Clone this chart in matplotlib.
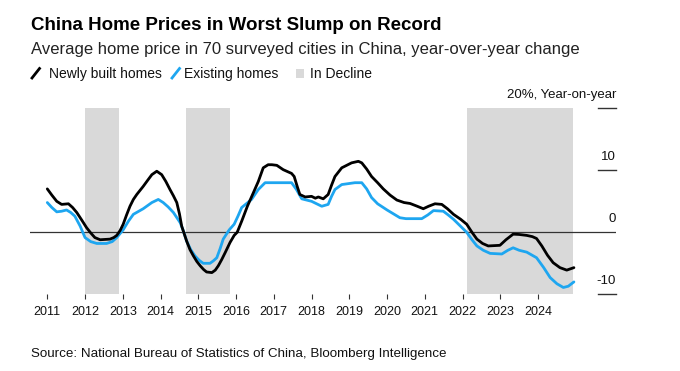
import matplotlib
matplotlib.use('Agg')
import matplotlib.pyplot as plt
from matplotlib.lines import Line2D
from matplotlib.patches import Rectangle

# ---------------- data ----------------
new_t = [2011.0, 2011.12, 2011.25, 2011.38, 2011.56, 2011.67, 2011.78, 2011.92, 2012.04, 2012.15,
         2012.26, 2012.4, 2012.53, 2012.66, 2012.76, 2012.84, 2012.93, 2013.01, 2013.1, 2013.19,
         2013.28, 2013.37, 2013.54, 2013.66, 2013.77, 2013.9, 2014.03, 2014.14, 2014.25, 2014.34,
         2014.43, 2014.5, 2014.56, 2014.69, 2014.78, 2014.87, 2014.96, 2015.05, 2015.14, 2015.22,
         2015.36, 2015.45, 2015.53, 2015.62, 2015.71, 2015.84, 2015.95, 2016.03, 2016.15, 2016.3,
         2016.46, 2016.59, 2016.72, 2016.85, 2016.95, 2017.08, 2017.25, 2017.47, 2017.54, 2017.62,
         2017.69, 2017.83, 2018.0, 2018.1, 2018.18, 2018.31, 2018.44, 2018.53, 2018.62, 2018.8,
         2019.06, 2019.24, 2019.33, 2019.46, 2019.59, 2019.75, 2019.9, 2020.08, 2020.26, 2020.45,
         2020.61, 2020.8, 2020.96, 2021.1, 2021.27, 2021.45, 2021.6, 2021.76, 2021.95, 2022.11,
         2022.25, 2022.38, 2022.53, 2022.68, 2022.99, 2023.15, 2023.34, 2023.5, 2023.7, 2023.85,
         2023.96, 2024.1, 2024.25, 2024.4, 2024.58, 2024.76, 2024.95]
new_v = [7.0, 6.0, 5.0, 4.5, 4.6, 4.0, 3.2, 1.9, 0.75, -0.1,
         -0.85, -1.2, -1.15, -1.1, -0.85, -0.5, 0.3, 1.3, 2.8, 4.2,
         5.3, 6.1, 7.4, 8.4, 9.3, 9.85, 9.3, 8.2, 6.9, 5.9,
         4.8, 3.0, 1.0, -1.4, -2.8, -3.8, -4.7, -5.4, -6.0, -6.4,
         -6.5, -6.1, -5.4, -4.4, -3.3, -1.65, -0.5, 0.0, 1.8, 4.2,
         6.4, 8.2, 10.4, 10.9, 10.9, 10.8, 10.1, 9.5, 9.0, 7.4,
         6.1, 5.7, 5.8, 5.5, 5.7, 5.4, 6.1, 7.6, 9.0, 10.4,
         11.2, 11.45, 11.2, 10.2, 9.0, 8.0, 7.0, 6.0, 5.2, 4.8,
         4.65, 4.2, 3.8, 4.2, 4.6, 4.5, 3.8, 2.9, 2.1, 1.3,
         0.0, -1.1, -1.8, -2.2, -2.1, -1.2, -0.3, -0.35, -0.5, -0.7,
         -1.0, -2.2, -3.7, -4.9, -5.7, -6.1, -5.7]

ex_t = [2011.0, 2011.12, 2011.25, 2011.38, 2011.51, 2011.62, 2011.73, 2011.87, 2012.0, 2012.15,
        2012.31, 2012.57, 2012.72, 2012.84, 2013.01, 2013.15, 2013.28, 2013.54, 2013.77, 2013.94,
        2014.07, 2014.2, 2014.34, 2014.52, 2014.6, 2014.69, 2014.8, 2014.91, 2015.02, 2015.13,
        2015.31, 2015.4, 2015.49, 2015.58, 2015.66, 2015.82, 2015.95, 2016.05, 2016.15, 2016.41,
        2016.59, 2016.77, 2017.16, 2017.47, 2017.6, 2017.74, 2018.0, 2018.27, 2018.44, 2018.53,
        2018.62, 2018.8, 2019.15, 2019.33, 2019.46, 2019.59, 2019.75, 2019.9, 2020.0, 2020.34,
        2020.5, 2020.92, 2021.08, 2021.23, 2021.49, 2021.62, 2021.76, 2022.11, 2022.25, 2022.38,
        2022.55, 2022.73, 2023.04, 2023.2, 2023.34, 2023.5, 2023.7, 2023.96, 2024.15, 2024.32,
        2024.5, 2024.67, 2024.8, 2024.95]
ex_v = [4.8, 4.0, 3.3, 3.4, 3.6, 3.2, 2.6, 1.0, -0.85, -1.5,
        -1.8, -1.8, -1.5, -0.85, 0.4, 1.8, 2.9, 3.8, 4.8, 5.3,
        4.8, 4.1, 3.2, 1.55, 0.3, -1.4, -2.8, -3.8, -4.5, -5.0,
        -5.0, -4.6, -4.1, -2.6, -1.1, 0.4, 1.3, 2.6, 4.0, 5.3,
        6.9, 8.0, 8.0, 8.0, 6.9, 5.4, 5.0, 4.2, 4.5, 5.8,
        6.9, 7.7, 8.0, 8.0, 7.0, 5.6, 4.6, 4.0, 3.6, 2.35,
        2.2, 2.2, 2.8, 3.5, 3.4, 2.8, 2.1, 0.0, -1.2, -2.2,
        -2.9, -3.4, -3.5, -2.9, -2.5, -2.9, -3.2, -4.1, -5.7, -7.3,
        -8.3, -8.9, -8.7, -8.0]

decline_start = [2012.0, 2014.67, 2022.11]
decline_end = [2012.91, 2015.83, 2024.93]

years = list(range(2011, 2025))
year_labels = [str(y) for y in years]
y_ticks = [20, 10, 0, -10]
y_labels = ['20%, Year-on-year', '10', '0', '-10']

title = 'China Home Prices in Worst Slump on Record'
subtitle = 'Average home price in 70 surveyed cities in China, year-over-year change'
source = 'Source: National Bureau of Statistics of China, Bloomberg Intelligence'
legend_labels = ['Newly built homes', 'Existing homes', 'In Decline']

# ---------------- style ----------------
BLACK = '#000000'
BLUE = '#1ea6f0'
GREY = '#d9d9d9'
AXC = '#333333'
FONT = ['Liberation Sans', 'DejaVu Sans']
plt.rcParams['font.family'] = FONT

W, H = 680, 371
fig = plt.figure(figsize=(W / 100, H / 100), dpi=100)


def fx(px):
    return px / W


def fy(py):
    return 1 - py / H


ax_l, ax_r, ax_t, ax_b = 30, 616, 108.3, 294.3
ax = fig.add_axes([fx(ax_l), fy(ax_b), fx(ax_r) - fx(ax_l), fy(ax_t) - fy(ax_b)])
ppy = 37.75  # px per year
ax.set_xlim(2011 - (47.3 - ax_l) / ppy, 2011 + (ax_r - 47.3) / ppy)
ax.set_ylim(-10, 20)
for s in ax.spines.values():
    s.set_visible(False)
ax.set_yticks([])
ax.set_xticks(years)
ax.set_xticklabels(year_labels, fontsize=9, color='#111111')
ax.tick_params(axis='x', length=3.6, width=0.8, color=AXC, pad=5)
ax.patch.set_alpha(0)

for s0, s1 in zip(decline_start, decline_end):
    ax.axvspan(s0, s1, color=GREY, lw=0, zorder=0)

ax.axhline(0, color=AXC, lw=0.9, zorder=1)
tick_x0 = (597.7 - ax_l) / (ax_r - ax_l)
for v, lab in zip(y_ticks, y_labels):
    if v != 0:
        ax.axhline(v, xmin=tick_x0, xmax=1, color=AXC, lw=1.0, clip_on=False, zorder=1)
    ax.annotate(lab, xy=(1, v), xycoords=('axes fraction', 'data'), xytext=(0, 9.5),
                textcoords='offset points', ha='right', va='center', fontsize=9.5,
                color='#111111')

ax.plot(ex_t, ex_v, color=BLUE, lw=2.0, solid_joinstyle='round', solid_capstyle='round', zorder=3)
ax.plot(new_t, new_v, color=BLACK, lw=2.0, solid_joinstyle='round', solid_capstyle='round', zorder=4)

# ---------------- header ----------------
fig.text(fx(31), fy(30), title, fontsize=13.5, fontweight='bold', va='baseline', ha='left',
         color='#000000')
fig.text(fx(31), fy(54), subtitle, fontsize=12.0, va='baseline', ha='left', color='#222222')

leg_base = fy(77.7)
fig.add_artist(Line2D([fx(32), fx(39.5)], [fy(78), fy(68.5)], color=BLACK, lw=2.0, transform=fig.transFigure))
fig.text(fx(49.3), leg_base, legend_labels[0], fontsize=10, va='baseline', ha='left', color='#111111')
fig.add_artist(Line2D([fx(172), fx(179.5)], [fy(78), fy(68.5)], color=BLUE, lw=2.0, transform=fig.transFigure))
fig.text(fx(184.5), leg_base, legend_labels[1], fontsize=10, va='baseline', ha='left', color='#111111')
fig.add_artist(Rectangle((fx(295.5), fy(77.5)), fx(8.5), fx(8.5) * W / H, color=GREY, lw=0,
                         transform=fig.transFigure))
fig.text(fx(309.5), leg_base, legend_labels[2], fontsize=10, va='baseline', ha='left', color='#111111')

fig.text(fx(31), fy(356.7), source, fontsize=9.6, va='baseline', ha='left', color='#111111')

fig.savefig('out.png', dpi=100)
